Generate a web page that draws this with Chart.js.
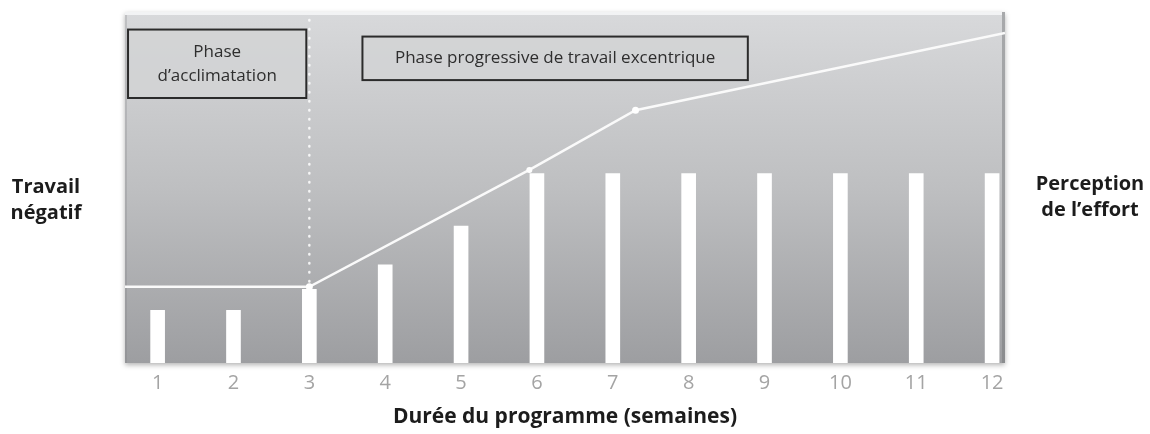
<!DOCTYPE html>
<html>
<head>
<meta charset="utf-8">
<script src="https://cdn.jsdelivr.net/npm/chart.js@4.4.0/dist/chart.umd.min.js"></script>
<style>
  html, body { margin: 0; padding: 0; background: #fff; }
</style>
</head>
<body>
<canvas id="chart" width="1150" height="434"></canvas>
<script>
// Weekly programme: negative work load (bars) and perceived effort (line)
const weeks = [1, 2, 3, 4, 5, 6, 7, 8, 9, 10, 11, 12];
const negativeWork = [15, 15, 21, 28, 39, 54, 54, 54, 54, 54, 54, 54];

// effort curve runs edge to edge, bending at week 3, ~6 and ~7.3
const effortWeeks = [0.57, 3, 5.9, 7.3, 12.17];
const effortLevel = [21.7, 21.7, 55, 72, 94];

// end of the acclimatation phase
const phaseSplitWeek = 3;

const phaseBoxes = [
  { from: 0.61, to: 2.96, top: 95, bottom: 75.5, lines: ['Phase', 'd\u2019acclimatation'] },
  { from: 3.7, to: 8.78, top: 93, bottom: 80.6, lines: ['Phase progressive de travail excentrique'] }
];

const sideLabels = {
  left: ['Travail', 'négatif'],
  right: ['Perception', 'de l\u2019effort']
};

const FONT = "'Open Sans', 'Noto Sans', sans-serif";

// gray panel behind the plot
const backdrop = {
  id: 'backdrop',
  beforeDraw(chart) {
    const { ctx, chartArea: a } = chart;
    const g = ctx.createLinearGradient(0, a.top, 0, a.bottom);
    g.addColorStop(0, '#d8d9db');
    g.addColorStop(0.5, '#bebfc1');
    g.addColorStop(1, '#9d9ea1');
    ctx.save();
    ctx.shadowColor = 'rgba(0,0,0,0.3)';
    ctx.shadowBlur = 5;
    ctx.shadowOffsetY = 2;
    ctx.fillStyle = g;
    ctx.fillRect(a.left, a.top, a.width, a.height);
    ctx.restore();

    ctx.save();
    // light rim on top
    ctx.fillStyle = 'rgba(245,245,246,0.9)';
    ctx.fillRect(a.left, a.top, a.width - 3, 3);
    // darker side edges
    ctx.fillStyle = 'rgba(120,121,124,0.5)';
    ctx.fillRect(a.right - 3, a.top, 3, a.height);
    ctx.fillStyle = 'rgba(120,121,124,0.25)';
    ctx.fillRect(a.left, a.top + 3, 2, a.height - 3);
    ctx.restore();
  },
  beforeDatasetsDraw(chart) {
    const { ctx, chartArea: a, scales } = chart;
    const x = scales.x.getPixelForValue(phaseSplitWeek);
    const yEnd = scales.y.getPixelForValue(effortLevel[1]);
    ctx.save();
    ctx.strokeStyle = 'rgba(255,255,255,0.85)';
    ctx.lineWidth = 2.5;
    ctx.lineCap = 'round';
    ctx.setLineDash([0.5, 8.5]);
    ctx.beginPath();
    ctx.moveTo(x, a.top + 8);
    ctx.lineTo(x, yEnd - 4);
    ctx.stroke();
    ctx.restore();
  }
};

// phase boxes and side titles
const phases = {
  id: 'phases',
  afterDatasetsDraw(chart) {
    const { ctx, scales } = chart;
    ctx.save();
    phaseBoxes.forEach(b => {
      const x0 = scales.x.getPixelForValue(b.from);
      const x1 = scales.x.getPixelForValue(b.to);
      const y0 = scales.y.getPixelForValue(b.top);
      const y1 = scales.y.getPixelForValue(b.bottom);
      ctx.fillStyle = 'rgba(210,211,213,0.85)';
      ctx.fillRect(x0, y0, x1 - x0, y1 - y0);
      ctx.strokeStyle = '#2b2b2b';
      ctx.lineWidth = 2;
      ctx.strokeRect(x0, y0, x1 - x0, y1 - y0);
      ctx.fillStyle = '#2e2e2e';
      ctx.font = `17px ${FONT}`;
      ctx.textAlign = 'center';
      ctx.textBaseline = 'middle';
      const cx = (x0 + x1) / 2;
      const cy = (y0 + y1) / 2;
      const lh = 24;
      b.lines.forEach((t, i) => {
        ctx.fillText(t, cx, cy + (i - (b.lines.length - 1) / 2) * lh);
      });
    });
    ctx.restore();
  },
  afterDraw(chart) {
    const { ctx } = chart;
    ctx.save();
    ctx.fillStyle = '#1c1c1c';
    ctx.font = `bold 20px ${FONT}`;
    ctx.textAlign = 'center';
    ctx.textBaseline = 'middle';
    sideLabels.left.forEach((t, i) => ctx.fillText(t, 46, 187 + i * 26));
    sideLabels.right.forEach((t, i) => ctx.fillText(t, 1090, 184 + i * 26));
    ctx.restore();
  }
};

const ctx = document.getElementById('chart');

new Chart(ctx, {
  type: 'bar',
  data: {
    datasets: [
      {
        type: 'line',
        data: effortWeeks.map((w, i) => ({ x: w, y: effortLevel[i] })),
        borderColor: '#fafafa',
        borderWidth: 2.5,
        pointRadius: [0, 3.5, 3, 3.5, 0],
        pointBackgroundColor: '#ffffff',
        pointBorderWidth: 0,
        tension: 0,
        order: 0
      },
      {
        data: weeks.map((w, i) => ({ x: w, y: negativeWork[i] })),
        backgroundColor: '#ffffff',
        barThickness: 14,
        order: 1
      }
    ]
  },
  options: {
    responsive: false,
    animation: false,
    devicePixelRatio: 1,
    layout: { padding: { left: 125, right: 145, top: 12, bottom: 0 } },
    plugins: {
      legend: { display: false },
      tooltip: { enabled: false }
    },
    scales: {
      x: {
        type: 'linear',
        min: 0.57,
        max: 12.17,
        offset: false,
        grid: { display: false, drawTicks: false },
        border: { display: false },
        afterBuildTicks: s => { s.ticks = weeks.map(v => ({ value: v })); },
        afterFit: s => { s.height = 71; },
        ticks: {
          padding: 8,
          maxRotation: 0,
          color: '#a4a4a4',
          font: { family: FONT, size: 20 },
          callback: v => String(v)
        },
        title: {
          display: true,
          text: 'Durée du programme (semaines)',
          color: '#1c1c1c',
          font: { family: FONT, size: 21, weight: 'bold' },
          padding: { top: 0, bottom: 4 }
        }
      },
      y: { display: false, min: 0, max: 100 }
    }
  },
  plugins: [backdrop, phases]
});
</script>
</body>
</html>
